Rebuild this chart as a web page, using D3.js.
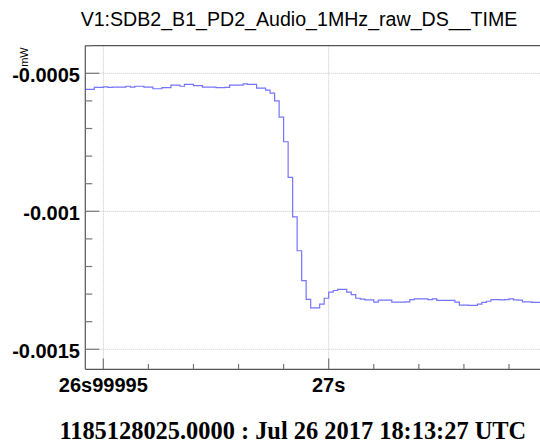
<!DOCTYPE html>
<html>
<head>
<meta charset="utf-8">
<script src="https://cdn.jsdelivr.net/npm/d3@7"></script>
<style>
  html, body { margin: 0; padding: 0; background: #fff; }
  svg { display: block; }
</style>
</head>
<body>
<svg id="chart" width="540" height="447"></svg>
<script>
// ---- data ----
const title = "V1:SDB2_B1_PD2_Audio_1MHz_raw_DS__TIME";
const footer = "1185128025.0000 : Jul 26 2017 18:13:27 UTC";
const yUnit = "mW";
// bin start time, microseconds relative to 27 s (bins are 1 µs wide)
const binStartUs = d3.range(-54, 48);
// values in mW (x 1e-6)
const valuesMicro = [
  -558, -558, -551, -551, -549, -551, -550, -550, -550, -547,
  -550, -547, -547, -550, -550, -556, -556, -552, -552, -543,
  -543, -547, -540, -540, -545, -545, -550, -550, -550, -552,
  -552, -551, -543, -543, -543, -538, -540, -540, -554, -554,
  -561, -572, -600, -659, -748, -877, -1020, -1143, -1251, -1319,
  -1350, -1350, -1336, -1315, -1293, -1287, -1283, -1283, -1293, -1302,
  -1315, -1318, -1321, -1321, -1329, -1322, -1322, -1322, -1329, -1329,
  -1329, -1328, -1320, -1317, -1317, -1317, -1320, -1317, -1323, -1323,
  -1323, -1323, -1329, -1340, -1340, -1341, -1341, -1336, -1330, -1326,
  -1320, -1320, -1321, -1320, -1317, -1321, -1322, -1328, -1328, -1330,
  -1330, -1330
];
const xMajorTicks = [-50, 0];
const xMajorLabels = ["26s99995", "27s"];
const xMinorTicks = [-40, -30, -20, -10, 10, 20, 30, 40];
const yMajorTicks = [-0.0015, -0.001, -0.0005];
const yMajorLabels = ["-0.0015", "-0.001", "-0.0005"];
const yMinorTicks = [-0.0014, -0.0013, -0.0012, -0.0011, -0.0009, -0.0008, -0.0007, -0.0006, -0.0004];
const xDomain = [-54, 56];
const yDomain = [-0.0015725, -0.0004];

(function () {
// ---- layout ----
const svg = d3.select("#chart");
svg.append("rect").attr("width", 540).attr("height", 447).attr("fill", "#fff");
const pL = 85.3, pR = 581.1, pT = 45.7, pB = 369.3;
const x = d3.scaleLinear().domain(xDomain).range([pL, pR]);
const y = d3.scaleLinear().domain(yDomain).range([pB, pT]);

const axisColor = "#555";
const gridColor = "#c4c4c4";

// grid
const g = svg.append("g");
g.selectAll("line.vg").data(xMajorTicks).join("line")
  .attr("x1", d => x(d)).attr("x2", d => x(d))
  .attr("y1", pT).attr("y2", pB)
  .attr("stroke", gridColor).attr("stroke-width", 1).attr("stroke-dasharray", "1,1");
g.selectAll("line.hg").data(yMajorTicks).join("line")
  .attr("x1", pL).attr("x2", pR)
  .attr("y1", d => y(d)).attr("y2", d => y(d))
  .attr("stroke", gridColor).attr("stroke-width", 1).attr("stroke-dasharray", "1,1");

// data line (step histogram)
const pts = binStartUs.map((t, i) => [t, valuesMicro[i] * 1e-6]);
pts.push([binStartUs[binStartUs.length - 1] + 1, valuesMicro[valuesMicro.length - 1] * 1e-6]);
const line = d3.line().x(d => x(d[0])).y(d => y(d[1])).curve(d3.curveStepAfter);
svg.append("path").datum(pts)
  .attr("d", line).attr("fill", "none")
  .attr("stroke", "#7474ff").attr("stroke-width", 1.2);

// frame
svg.append("line").attr("x1", pL).attr("x2", pL).attr("y1", pT).attr("y2", pB)
  .attr("stroke", axisColor).attr("stroke-width", 1.2);
svg.append("line").attr("x1", pL).attr("x2", pR).attr("y1", pB).attr("y2", pB)
  .attr("stroke", axisColor).attr("stroke-width", 1.2);
svg.append("line").attr("x1", pL).attr("x2", pR).attr("y1", pT).attr("y2", pT)
  .attr("stroke", axisColor).attr("stroke-width", 1.2);

// ticks
const tickColor = "#777";
svg.selectAll("line.xt").data(xMajorTicks).join("line")
  .attr("x1", d => x(d)).attr("x2", d => x(d))
  .attr("y1", pB).attr("y2", pB - 10.7)
  .attr("stroke", tickColor).attr("stroke-width", 1.2);
svg.selectAll("line.xmt").data(xMinorTicks).join("line")
  .attr("x1", d => x(d)).attr("x2", d => x(d))
  .attr("y1", pB).attr("y2", pB - 5.3)
  .attr("stroke", tickColor).attr("stroke-width", 1.2);
svg.selectAll("line.yt").data(yMajorTicks).join("line")
  .attr("x1", pL).attr("x2", pL + 14)
  .attr("y1", d => y(d)).attr("y2", d => y(d))
  .attr("stroke", tickColor).attr("stroke-width", 1.2);
svg.selectAll("line.ymt").data(yMinorTicks).join("line")
  .attr("x1", pL).attr("x2", pL + 7)
  .attr("y1", d => y(d)).attr("y2", d => y(d))
  .attr("stroke", tickColor).attr("stroke-width", 1.2);

// tick labels
const labelFont = "'Liberation Sans', Arial, Helvetica, sans-serif";
svg.selectAll("text.xl").data(xMajorTicks).join("text")
  .attr("x", d => x(d)).attr("y", 392)
  .attr("text-anchor", "middle")
  .attr("font-family", labelFont).attr("font-weight", "bold").attr("font-size", 20)
  .attr("fill", "#000")
  .text((d, i) => xMajorLabels[i]);
svg.selectAll("text.yl").data(yMajorTicks).join("text")
  .attr("x", 80).attr("y", d => y(d) + 8.5)
  .attr("text-anchor", "end")
  .attr("font-family", labelFont).attr("font-weight", "bold").attr("font-size", 20)
  .attr("fill", "#000")
  .text((d, i) => yMajorLabels[i]);

// y unit
svg.append("text")
  .attr("transform", "translate(27.5,47.3) rotate(-90)")
  .attr("text-anchor", "end")
  .attr("font-family", labelFont).attr("font-size", 11)
  .attr("fill", "#000")
  .text(yUnit);

// title
svg.append("text")
  .attr("x", 299).attr("y", 25.5)
  .attr("text-anchor", "middle")
  .attr("font-family", labelFont).attr("font-size", 19.6)
  .attr("fill", "#000")
  .text(title);

// footer
svg.append("text")
  .attr("x", 292.8).attr("y", 439)
  .attr("text-anchor", "middle")
  .attr("font-family", "'Liberation Serif', 'Times New Roman', serif")
  .attr("font-weight", "bold").attr("font-size", 24.4)
  .attr("fill", "#000")
  .text(footer);
})();
</script>
</body>
</html>
